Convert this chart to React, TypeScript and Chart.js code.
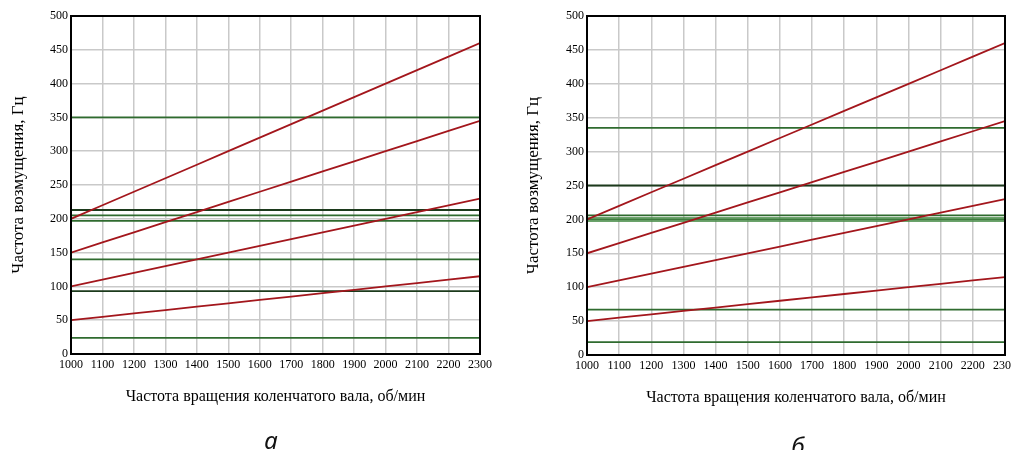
import React, { useEffect, useRef } from "react";
import { Chart, registerables } from "chart.js";

Chart.register(...registerables);

const rpm = [1000, 1100, 1200, 1300, 1400, 1500, 1600, 1700, 1800, 1900, 2000, 2100, 2200, 2300];
const harmonic1 = [200, 220, 240, 260, 280, 300, 320, 340, 360, 380, 400, 420, 440, 460];
const harmonic2 = [150, 165, 180, 195, 210, 225, 240, 255, 270, 285, 300, 315, 330, 345];
const harmonic3 = [100, 110, 120, 130, 140, 150, 160, 170, 180, 190, 200, 210, 220, 230];
const harmonic4 = [50, 55, 60, 65, 70, 75, 80, 85, 90, 95, 100, 105, 110, 115];

const naturalA = [350, 213, 205, 197, 140, 93, 24];
const naturalAKind = ["green", "dark", "green", "green", "green", "dark", "green"];
const naturalB = [335, 250, 206, 200, 67, 19];
const naturalBKind = ["green", "dark", "green", "band", "green", "green"];

const xTitle = "Частота вращения коленчатого вала, об/мин";
const yTitle = "Частота возмущения, Гц";

const RED = "#a3161c";
const GREEN = "#2f6b2f";
const DARK = "#1c3a1c";

type Cfg = {
  natural: number[];
  kinds: string[];
  yWidth: number;
  yTitlePad: number;
  padBottom: number;
  caption: string;
  captionX: number;
  captionY: number;
};

function buildConfig(c: Cfg): any {
  const datasets: any[] = [];
  [harmonic1, harmonic2, harmonic3, harmonic4].forEach((h) => {
    datasets.push({
      data: rpm.map((x, i) => ({ x, y: h[i] })),
      borderColor: RED,
      borderWidth: 1.8,
      pointRadius: 0,
      tension: 0,
    });
  });
  c.natural.forEach((v, i) => {
    const kind = c.kinds[i];
    const pts = [
      { x: rpm[0], y: v },
      { x: rpm[rpm.length - 1], y: v },
    ];
    if (kind === "band") {
      datasets.push({
        data: pts,
        borderColor: "rgba(70,140,70,0.8)",
        borderWidth: 5,
        pointRadius: 0,
      });
      datasets.push({
        data: pts,
        borderColor: DARK,
        borderWidth: 1.2,
        pointRadius: 0,
      });
    } else {
      datasets.push({
        data: pts,
        borderColor: kind === "dark" ? DARK : GREEN,
        borderWidth: 1.8,
        pointRadius: 0,
      });
    }
  });

  const boxPlugin = {
    id: "box",
    afterDatasetsDraw(chart: any) {
      const { ctx, chartArea } = chart;
      ctx.save();
      ctx.strokeStyle = "#000";
      ctx.lineWidth = 2;
      ctx.strokeRect(chartArea.left, chartArea.top, chartArea.right - chartArea.left, chartArea.bottom - chartArea.top);
      ctx.restore();
    },
    afterDraw(chart: any) {
      const { ctx } = chart;
      ctx.save();
      ctx.fillStyle = "#111";
      ctx.font = "italic 24px 'Noto Sans'";
      ctx.textAlign = "center";
      ctx.textBaseline = "alphabetic";
      ctx.fillText(c.caption, c.captionX, c.captionY);
      ctx.restore();
    },
  };

  return {
    type: "line",
    data: { datasets },
    plugins: [boxPlugin],
    options: {
      animation: false,
      responsive: false,
      layout: { padding: { top: 16, right: 20, bottom: c.padBottom, left: 0 } },
      plugins: { legend: { display: false }, tooltip: { enabled: false } },
      scales: {
        x: {
          type: "linear",
          min: 1000,
          max: 2300,
          afterFit: (s: any) => {
            s.height = 60;
          },
          ticks: {
            stepSize: 100,
            autoSkip: false,
            maxRotation: 0,
            padding: 4,
            color: "#000",
            font: { family: "'Liberation Serif'", size: 12 },
            callback: (v: any) => String(v),
          },
          grid: { color: "#c9c9c9", lineWidth: 1.5, drawTicks: false },
          border: { color: "#000", width: 2 },
          title: {
            display: true,
            text: xTitle,
            color: "#000",
            font: { family: "'Liberation Serif'", size: 16 },
            padding: { top: 0, bottom: 8 },
          },
        },
        y: {
          min: 0,
          max: 500,
          afterFit: (s: any) => {
            s.width = c.yWidth;
          },
          ticks: {
            stepSize: 50,
            autoSkip: false,
            padding: 3,
            color: "#000",
            font: { family: "'Liberation Serif'", size: 12 },
            callback: (v: any) => String(v),
          },
          grid: { color: "#c9c9c9", lineWidth: 1.5, drawTicks: false },
          border: { color: "#000", width: 2 },
          title: {
            display: true,
            text: yTitle,
            color: "#000",
            font: { family: "'Liberation Serif'", size: 17 },
            padding: { top: c.yTitlePad, bottom: 0 },
          },
        },
      },
    },
  };
}

function ChartCanvas(props: { cfg: Cfg; left: number; width: number }) {
  const ref = useRef<HTMLCanvasElement | null>(null);
  useEffect(() => {
    if (!ref.current) return;
    const chart = new Chart(ref.current, buildConfig(props.cfg));
    return () => chart.destroy();
  }, []);
  return (
    <canvas
      ref={ref}
      width={props.width}
      height={450}
      style={{ position: "absolute", left: props.left, top: 0, width: props.width, height: 450 }}
    />
  );
}

export default function App() {
  const cfgA: Cfg = {
    natural: naturalA,
    kinds: naturalAKind,
    yWidth: 71,
    yTitlePad: 8,
    padBottom: 36,
    caption: "а",
    captionX: 271,
    captionY: 449,
  };
  const cfgB: Cfg = {
    natural: naturalB,
    kinds: naturalBKind,
    yWidth: 87,
    yTitlePad: 23,
    padBottom: 35,
    caption: "б",
    captionX: 298,
    captionY: 455,
  };
  return (
    <div
      style={{
        position: "fixed",
        left: 0,
        top: 0,
        width: 1011,
        height: 450,
        overflow: "hidden",
        background: "#fff",
      }}
    >
      <ChartCanvas cfg={cfgA} left={0} width={500} />
      <ChartCanvas cfg={cfgB} left={500} width={525} />
    </div>
  );
}
